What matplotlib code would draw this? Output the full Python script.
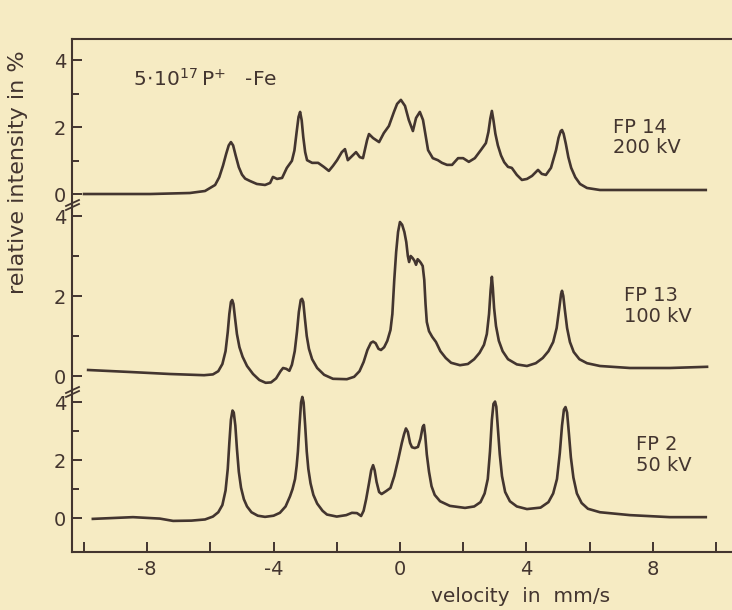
import matplotlib
matplotlib.use("Agg")
import matplotlib.pyplot as plt
from matplotlib.lines import Line2D

# ---------------- data (velocity in mm/s, relative intensity in %) ----------------
v_fp14 = [-10.0, -7.9, -6.65, -6.17, -5.85, -5.72, -5.60, -5.50, -5.42, -5.35, -5.28, -5.20,
          -5.10, -5.00, -4.90, -4.75, -4.53, -4.27, -4.11, -4.02, -3.89, -3.73, -3.58, -3.42,
          -3.34, -3.27, -3.21, -3.16, -3.11, -3.06, -3.00, -2.94, -2.78, -2.59, -2.41, -2.25,
          -2.12, -1.99, -1.84, -1.74, -1.65, -1.52, -1.39, -1.27, -1.17, -1.04, -0.98, -0.85,
          -0.66, -0.51, -0.35, -0.19, -0.09, 0.03, 0.16, 0.28, 0.41, 0.51, 0.63, 0.73, 0.89,
          1.04, 1.20, 1.33, 1.49, 1.65, 1.84, 2.00, 2.18, 2.37, 2.56, 2.72, 2.80, 2.86, 2.91,
          2.96, 3.02, 3.10, 3.20, 3.30, 3.42, 3.54, 3.70, 3.86, 4.02, 4.18, 4.37, 4.49, 4.62,
          4.78, 4.94, 5.02, 5.09, 5.13, 5.18, 5.25, 5.33, 5.42, 5.55, 5.70, 5.92, 6.33, 7.91, 9.68]
i_fp14 = [0.0, 0.0, 0.03, 0.09, 0.27, 0.50, 0.85, 1.20, 1.45, 1.55, 1.45, 1.15,
          0.80, 0.58, 0.46, 0.39, 0.30, 0.27, 0.33, 0.51, 0.45, 0.48, 0.78, 0.99,
          1.30, 1.85, 2.30, 2.45, 2.20, 1.70, 1.25, 1.01, 0.93, 0.93, 0.81, 0.69,
          0.84, 1.01, 1.25, 1.34, 1.01, 1.13, 1.25, 1.10, 1.07, 1.61, 1.79, 1.67,
          1.55, 1.82, 2.03, 2.45, 2.69, 2.81, 2.63, 2.21, 1.88, 2.27, 2.45, 2.21, 1.31,
          1.07, 1.01, 0.93, 0.87, 0.87, 1.07, 1.07, 0.96, 1.07, 1.31, 1.52, 1.85, 2.25, 2.48,
          2.20, 1.80, 1.45, 1.15, 0.95, 0.81, 0.78, 0.57, 0.42, 0.45, 0.54, 0.72, 0.60, 0.57,
          0.78, 1.31, 1.68, 1.88, 1.91, 1.80, 1.50, 1.10, 0.78, 0.50, 0.30, 0.18, 0.12, 0.12, 0.12]

v_fp13 = [-9.87, -8.54, -7.28, -6.2, -5.92, -5.75, -5.62, -5.52, -5.45, -5.40, -5.35, -5.31,
          -5.27, -5.22, -5.16, -5.08, -4.98, -4.84, -4.65, -4.45, -4.25, -4.08, -3.92, -3.78,
          -3.70, -3.60, -3.50, -3.42, -3.33, -3.26, -3.20, -3.14, -3.10, -3.06, -3.01, -2.95,
          -2.88, -2.78, -2.62, -2.40, -2.12, -1.68, -1.45, -1.28, -1.15, -1.03, -0.92, -0.85,
          -0.77, -0.68, -0.60, -0.50, -0.40, -0.30, -0.24, -0.18, -0.12, -0.06, 0.0, 0.07,
          0.14, 0.20, 0.25, 0.29, 0.34, 0.40, 0.46, 0.51, 0.56, 0.61, 0.66, 0.72, 0.77, 0.81,
          0.85, 0.92, 1.02, 1.14, 1.28, 1.45, 1.62, 1.90, 2.15, 2.35, 2.52, 2.66, 2.75, 2.82,
          2.87, 2.91, 2.94, 2.98, 3.04, 3.13, 3.25, 3.42, 3.70, 4.02, 4.30, 4.52, 4.70, 4.85,
          4.96, 5.04, 5.10, 5.13, 5.17, 5.22, 5.29, 5.38, 5.50, 5.68, 5.92, 6.33, 7.28, 8.54, 9.72]
i_fp13 = [0.15, 0.10, 0.05, 0.02, 0.04, 0.12, 0.30, 0.62, 1.10, 1.55, 1.85, 1.90,
          1.80, 1.45, 1.05, 0.72, 0.48, 0.25, 0.05, -0.10, -0.17, -0.16, -0.06, 0.12,
          0.20, 0.18, 0.13, 0.28, 0.62, 1.10, 1.60, 1.90, 1.93, 1.85, 1.45, 1.00,
          0.68, 0.42, 0.20, 0.03, -0.07, -0.08, -0.02, 0.12, 0.35, 0.65, 0.83, 0.86,
          0.82, 0.68, 0.65, 0.72, 0.88, 1.15, 1.55, 2.40, 3.10, 3.60, 3.85, 3.78,
          3.60, 3.35, 3.00, 2.85, 3.00, 2.95, 2.88, 2.78, 2.92, 2.88, 2.83, 2.75, 2.40, 1.80,
          1.35, 1.12, 0.98, 0.85, 0.62, 0.45, 0.33, 0.27, 0.30, 0.42, 0.58, 0.78, 1.05, 1.55,
          2.15, 2.48, 2.20, 1.70, 1.25, 0.88, 0.62, 0.42, 0.29, 0.25, 0.32, 0.45, 0.62, 0.85,
          1.20, 1.68, 2.05, 2.13, 2.00, 1.65, 1.20, 0.85, 0.60, 0.42, 0.32, 0.25, 0.20, 0.20, 0.23]

v_fp2 = [-9.72, -8.45, -7.6, -7.18, -6.6, -6.17, -5.92, -5.75, -5.62, -5.52, -5.45, -5.40,
         -5.35, -5.30, -5.26, -5.21, -5.16, -5.10, -5.03, -4.94, -4.84, -4.70, -4.50, -4.27,
         -4.00, -3.80, -3.62, -3.48, -3.40, -3.32, -3.27, -3.23, -3.18, -3.13, -3.09, -3.05,
         -3.00, -2.95, -2.90, -2.83, -2.74, -2.62, -2.45, -2.31, -2.00, -1.70, -1.52, -1.36,
         -1.23, -1.15, -1.07, -0.98, -0.91, -0.85, -0.80, -0.74, -0.66, -0.58, -0.44, -0.30,
         -0.18, -0.05, 0.06, 0.13, 0.19, 0.25, 0.32, 0.38, 0.47, 0.57, 0.65, 0.72, 0.76, 0.80,
         0.85, 0.92, 1.00, 1.10, 1.27, 1.58, 2.06, 2.35, 2.55, 2.68, 2.78, 2.85, 2.91, 2.96,
         3.01, 3.05, 3.10, 3.16, 3.23, 3.33, 3.48, 3.70, 4.02, 4.45, 4.70, 4.85, 4.97, 5.06,
         5.13, 5.19, 5.24, 5.29, 5.35, 5.41, 5.49, 5.60, 5.75, 5.95, 6.33, 7.28, 8.54, 9.68]
i_fp2 = [-0.03, 0.03, -0.02, -0.10, -0.09, -0.05, 0.05, 0.20, 0.45, 0.95, 1.70, 2.60,
         3.40, 3.72, 3.65, 3.20, 2.40, 1.60, 1.05, 0.65, 0.40, 0.20, 0.08, 0.04,
         0.08, 0.18, 0.40, 0.75, 1.00, 1.35, 1.80, 2.30, 3.20, 4.00, 4.19, 4.00,
         3.20, 2.30, 1.70, 1.20, 0.80, 0.50, 0.25, 0.12, 0.05, 0.10, 0.18, 0.17,
         0.07, 0.25, 0.65, 1.20, 1.65, 1.83, 1.65, 1.25, 0.90, 0.83, 0.93, 1.04,
         1.45, 2.05, 2.60, 2.90, 3.10, 2.98, 2.60, 2.45, 2.42, 2.46, 2.75, 3.15, 3.22, 2.85,
         2.20, 1.60, 1.10, 0.80, 0.58, 0.42, 0.35, 0.40, 0.55, 0.85, 1.35, 2.30, 3.40, 3.95,
         4.03, 3.85, 3.10, 2.20, 1.45, 0.90, 0.58, 0.40, 0.31, 0.36, 0.55, 0.85, 1.35, 2.25,
         3.20, 3.75, 3.84, 3.65, 2.90, 2.10, 1.40, 0.85, 0.52, 0.32, 0.20, 0.10, 0.03, 0.03]

x_ticks = [-10, -8, -6, -4, -2, 0, 2, 4, 6, 8, 10]
x_ticklabels = ["", "-8", "", "-4", "", "0", "", "4", "", "8", ""]
y_ticks = [0, 2, 4]
y_minor = [1, 3]
labels = ["FP 14\n200 kV", "FP 13\n100 kV", "FP 2\n50 kV"]

# ---------------- styling ----------------
bg = "#f6ebc3"
ink = "#43352f"
W, H = 732, 610

fig = plt.figure(figsize=(W / 100, H / 100), dpi=100)
fig.patch.set_facecolor(bg)

def rect(top_px, bot_px, left_px=72, right_px=732):
    return [left_px / W, 1 - bot_px / H, (right_px - left_px) / W, (bot_px - top_px) / H]

xlim = (-10.38, 10.51)
panels = [
    dict(r=rect(39, 205), ylim=(-0.328, 4.627), v=v_fp14, i=i_fp14,
         lab=labels[0], lpos=(6.75, 1.68)),
    dict(r=rect(205, 390), ylim=(-0.35, 4.275), v=v_fp13, i=i_fp13,
         lab=labels[1], lpos=(7.1, 1.75)),
    dict(r=rect(390, 552), ylim=(-1.176, 4.43), v=v_fp2, i=i_fp2,
         lab=labels[2], lpos=(7.48, 2.18)),
]

for k, p in enumerate(panels):
    ax = fig.add_axes(p["r"])
    ax.set_facecolor("none")
    ax.plot(p["v"], p["i"], color=ink, lw=1.9, solid_joinstyle="round")
    ax.set_xlim(*xlim)
    ax.set_ylim(*p["ylim"])
    for s in ax.spines.values():
        s.set_visible(False)
    ax.spines["left"].set_visible(True)
    ax.spines["left"].set_color(ink)
    ax.spines["left"].set_linewidth(1.5)
    ax.set_yticks(y_ticks)
    ax.set_yticks(y_minor, minor=True)
    ax.tick_params(axis="y", which="major", direction="in", length=7, width=1.4,
                   color=ink, labelcolor=ink, labelsize=14, pad=4)
    ax.tick_params(axis="y", which="minor", direction="in", length=5, width=1.4, color=ink)
    ax.text(p["lpos"][0], p["lpos"][1], p["lab"], color=ink, fontsize=14,
            ha="left", va="center", linespacing=1.1)
    if k == 0:
        ax.spines["top"].set_visible(True)
        ax.spines["top"].set_color(ink)
        ax.spines["top"].set_linewidth(1.5)
        ax.text(-8.45, 3.45, r"$5\!\cdot\!10^{17}\,\mathrm{P}^{+}$   -Fe", color=ink,
                fontsize=14.5, ha="left", va="center")
    if k == 2:
        ax.spines["bottom"].set_visible(True)
        ax.spines["bottom"].set_color(ink)
        ax.spines["bottom"].set_linewidth(1.5)
        ax.set_xticks(x_ticks, labels=x_ticklabels)
        ax.tick_params(axis="x", direction="in", length=7, width=1.4, color=ink,
                       labelcolor=ink, labelsize=14, pad=6)
    else:
        ax.set_xticks([])

# axis labels
fig.text(18 / W, 1 - 172 / H, "relative intensity in %", rotation=90, color=ink,
         fontsize=16, ha="center", va="center")
fig.text(521 / W, 1 - 597 / H, "velocity  in  mm/s", color=ink, fontsize=14.5,
         ha="center", va="center")

# axis-break marks on the left spine
for yb in (205, 392):
    for dy in (-2, 2):
        fig.add_artist(Line2D([66 / W, 79 / W], [1 - (yb + dy + 3) / H, 1 - (yb + dy - 3) / H],
                              color=ink, lw=1.3, transform=fig.transFigure))

fig.savefig("out.png", dpi=100, facecolor=bg)
